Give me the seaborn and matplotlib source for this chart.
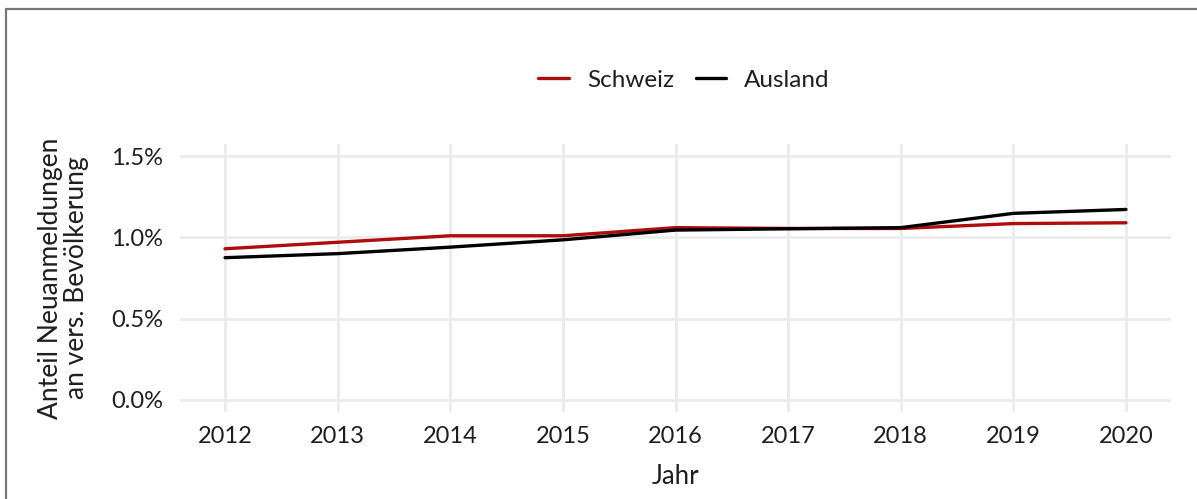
import numpy as np
import pandas as pd
import seaborn as sns
import matplotlib.pyplot as plt
from matplotlib.ticker import FuncFormatter
from matplotlib.lines import Line2D

# data (share in percent)
jahre = [2012, 2013, 2014, 2015, 2016, 2017, 2018, 2019, 2020]
schweiz = [0.93, 0.97, 1.01, 1.01, 1.06, 1.055, 1.055, 1.085, 1.09]
ausland = [0.875, 0.90, 0.94, 0.985, 1.045, 1.053, 1.06, 1.148, 1.172]
gruppen = ["Schweiz", "Ausland"]
farben = ["#B00C0C", "#000000"]

df = pd.DataFrame({
    "Jahr": jahre * 2,
    "Anteil": schweiz + ausland,
    "Gruppe": [gruppen[0]] * len(jahre) + [gruppen[1]] * len(jahre),
})

sns.set_theme(style="whitegrid")
plt.rcParams["font.family"] = ["Lato", "DejaVu Sans"]
text_col = "#1E1E1E"

fig = plt.figure(figsize=(11.97, 4.99), dpi=100)
ax = fig.add_axes([180 / 1197, 1 - 412 / 499, (1171 - 180) / 1197, (412 - 144) / 499])

sns.lineplot(data=df, x="Jahr", y="Anteil", hue="Gruppe", hue_order=gruppen,
             palette=farben, linewidth=2.4, ax=ax, legend=False)

ax.set_xlim(2011.6, 2020.4)
ax.set_ylim(-0.075, 1.575)
ax.set_xticks(jahre)
ax.set_yticks([0.0, 0.5, 1.0, 1.5])
ax.yaxis.set_major_formatter(FuncFormatter(lambda v, p: f"{v:.1f}%"))
ax.tick_params(axis="both", labelsize=17, colors=text_col, length=0)
ax.tick_params(axis="x", pad=10)
ax.tick_params(axis="y", pad=12)
ax.grid(True, color="#EBEBEB", linewidth=2)
for s in ax.spines.values():
    s.set_visible(False)
ax.set_facecolor("white")

ax.set_xlabel("Jahr", fontsize=18.5, color=text_col, labelpad=12)
ax.set_ylabel("Anteil Neuanmeldungen\nan vers. Bevölkerung", fontsize=19,
              color=text_col, labelpad=16, linespacing=1.05)

handles = [Line2D([], [], color=c, linewidth=2.4) for c in farben]
fig.legend(handles, gruppen, loc="center", bbox_to_anchor=(684 / 1197, 1 - 80 / 499),
           ncol=2, frameon=False, fontsize=17.5, handlelength=1.25,
           columnspacing=0.9, handletextpad=0.75, labelcolor=text_col)

# frame lines at top and left of the image
fig.add_artist(Line2D([6 / 1197, 1], [1 - 9 / 499, 1 - 9 / 499], color="#777777",
                      linewidth=1.6, transform=fig.transFigure))
fig.add_artist(Line2D([6 / 1197, 6 / 1197], [0, 1 - 9 / 499], color="#777777",
                      linewidth=1.6, transform=fig.transFigure))

fig.savefig("out.png", dpi=100)
plt.close(fig)
